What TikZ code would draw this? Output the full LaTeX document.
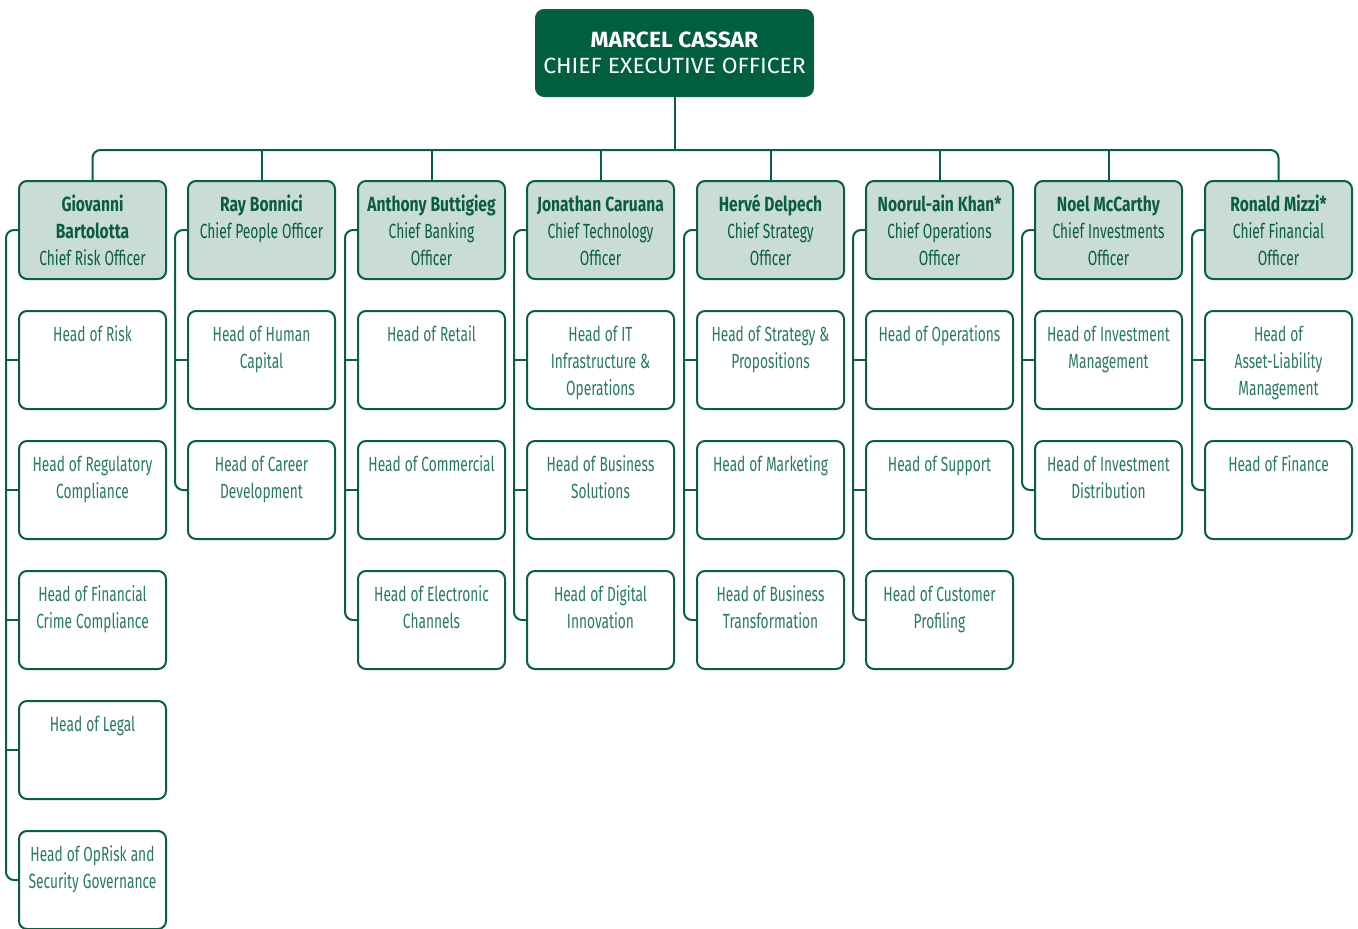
\documentclass[tikz,border=0pt]{standalone}
\usepackage{fontspec}
\setmainfont{Fira Sans}
\newfontfamily\condfont{Fira Sans}[FakeStretch=0.67, BoldFeatures={FakeStretch=0.76}]
\newfontfamily\ceofont{Fira Sans}[FakeStretch=1.04]
\definecolor{dkgreen}{HTML}{0A5E44}
\definecolor{ceofill}{HTML}{005F41}
\definecolor{hdrfill}{HTML}{C9DCD5}
\definecolor{hdrtext}{HTML}{0B5C44}
\definecolor{subtext}{HTML}{2A7A5E}
\newcommand\mystrut{\spaceskip=4pt\relax\rule{0pt}{18pt}}
\tikzset{
  box/.style={draw=dkgreen, line width=2pt, rounded corners=8pt, minimum width=147pt, minimum height=98pt, inner sep=0pt},
  hbox/.style={box, fill=hdrfill},
  cbox/.style={box, fill=white},
  htext/.style={anchor=north, inner sep=0pt, text width=150pt, align=center, font=\condfont\fontsize{20.5}{27}\selectfont, text=hdrtext},
  ctext/.style={htext, text=subtext},
  conn/.style={draw=dkgreen, line width=2pt},
}
\begin{document}
\begin{tikzpicture}[x=1pt,y=-1pt]
\useasboundingbox (0,0) rectangle (1358,929);
\clip (0,0) rectangle (1358,929);
% CEO
\node[box, fill=ceofill, minimum width=277pt, minimum height=86pt] (ceo) at (674.5,53) {};
\node[anchor=center, inner sep=0pt, align=center, text=white, font=\ceofont\fontsize{22}{26}\selectfont] (ceot) at (ceo.center) {\textbf{MARCEL CASSAR}\\CHIEF EXECUTIVE OFFICER};
\coordinate (bus) at (0,150);
% headers
\node[hbox] (h1) at (92.5,230) {};
\node[hbox] (h2) at (261.5,230) {};
\node[hbox] (h3) at (431.5,230) {};
\node[hbox] (h4) at (600.5,230) {};
\node[hbox] (h5) at (770.5,230) {};
\node[hbox] (h6) at (939.5,230) {};
\node[hbox] (h7) at (1108.5,230) {};
\node[hbox] (h8) at (1278.5,230) {};
\node[htext] (h1t) at ([yshift=-13pt]h1.north) {\mystrut\textbf{Giovanni}\\\textbf{Bartolotta}\\Chief Risk Officer};
\node[htext] (h2t) at ([yshift=-13pt]h2.north) {\mystrut\textbf{Ray Bonnici}\\Chief People Officer};
\node[htext] (h3t) at ([yshift=-13pt]h3.north) {\mystrut\textbf{Anthony Buttigieg}\\Chief Banking\\Officer};
\node[htext] (h4t) at ([yshift=-13pt]h4.north) {\mystrut\textbf{Jonathan Caruana}\\Chief Technology\\Officer};
\node[htext] (h5t) at ([yshift=-13pt]h5.north) {\mystrut\textbf{Hervé Delpech}\\Chief Strategy\\Officer};
\node[htext] (h6t) at ([yshift=-13pt]h6.north) {\mystrut\textbf{Noorul-ain Khan*}\\Chief Operations\\Officer};
\node[htext] (h7t) at ([yshift=-13pt]h7.north) {\mystrut\textbf{Noel McCarthy}\\Chief Investments\\Officer};
\node[htext] (h8t) at ([yshift=-13pt]h8.north) {\mystrut\textbf{Ronald Mizzi*}\\Chief Financial\\Officer};
% column 1
\node[cbox] (c11) at (92.5,360) {};
\node[cbox] (c12) at (92.5,490) {};
\node[cbox] (c13) at (92.5,620) {};
\node[cbox] (c14) at (92.5,750) {};
\node[cbox] (c15) at (92.5,880) {};
\node[ctext] at ([yshift=-13pt]c11.north) {\mystrut Head of Risk};
\node[ctext] at ([yshift=-13pt]c12.north) {\mystrut Head of Regulatory\\Compliance};
\node[ctext] at ([yshift=-13pt]c13.north) {\mystrut Head of Financial\\Crime Compliance};
\node[ctext] at ([yshift=-13pt]c14.north) {\mystrut Head of Legal};
\node[ctext] at ([yshift=-13pt]c15.north) {\mystrut Head of OpRisk and\\Security Governance};
% column 2
\node[cbox] (c21) at (261.5,360) {};
\node[cbox] (c22) at (261.5,490) {};
\node[ctext] at ([yshift=-13pt]c21.north) {\mystrut Head of Human\\Capital};
\node[ctext] at ([yshift=-13pt]c22.north) {\mystrut Head of Career\\Development};
% column 3
\node[cbox] (c31) at (431.5,360) {};
\node[cbox] (c32) at (431.5,490) {};
\node[cbox] (c33) at (431.5,620) {};
\node[ctext] at ([yshift=-13pt]c31.north) {\mystrut Head of Retail};
\node[ctext] at ([yshift=-13pt]c32.north) {\mystrut Head of Commercial};
\node[ctext] at ([yshift=-13pt]c33.north) {\mystrut Head of Electronic\\Channels};
% column 4
\node[cbox] (c41) at (600.5,360) {};
\node[cbox] (c42) at (600.5,490) {};
\node[cbox] (c43) at (600.5,620) {};
\node[ctext] at ([yshift=-13pt]c41.north) {\mystrut Head of IT\\Infrastructure \&\\Operations};
\node[ctext] at ([yshift=-13pt]c42.north) {\mystrut Head of Business\\Solutions};
\node[ctext] at ([yshift=-13pt]c43.north) {\mystrut Head of Digital\\Innovation};
% column 5
\node[cbox] (c51) at (770.5,360) {};
\node[cbox] (c52) at (770.5,490) {};
\node[cbox] (c53) at (770.5,620) {};
\node[ctext] at ([yshift=-13pt]c51.north) {\mystrut Head of Strategy \&\\Propositions};
\node[ctext] at ([yshift=-13pt]c52.north) {\mystrut Head of Marketing};
\node[ctext] at ([yshift=-13pt]c53.north) {\mystrut Head of Business\\Transformation};
% column 6
\node[cbox] (c61) at (939.5,360) {};
\node[cbox] (c62) at (939.5,490) {};
\node[cbox] (c63) at (939.5,620) {};
\node[ctext] at ([yshift=-13pt]c61.north) {\mystrut Head of Operations};
\node[ctext] at ([yshift=-13pt]c62.north) {\mystrut Head of Support};
\node[ctext] at ([yshift=-13pt]c63.north) {\mystrut Head of Customer\\Profiling};
% column 7
\node[cbox] (c71) at (1108.5,360) {};
\node[cbox] (c72) at (1108.5,490) {};
\node[ctext] at ([yshift=-13pt]c71.north) {\mystrut Head of Investment\\Management};
\node[ctext] at ([yshift=-13pt]c72.north) {\mystrut Head of Investment\\Distribution};
% column 8
\node[cbox] (c81) at (1278.5,360) {};
\node[cbox] (c82) at (1278.5,490) {};
\node[ctext] at ([yshift=-13pt]c81.north) {\mystrut Head of\\Asset-Liability\\Management};
\node[ctext] at ([yshift=-13pt]c82.north) {\mystrut Head of Finance};
% bus connectors
\draw[conn] (ceo.south) -- (ceo.south |- bus);
\draw[conn, rounded corners=8pt] (h1.north) -- (h1.north |- bus) -- (h8.north |- bus) -- (h8.north);
\foreach \h in {h2,h3,h4,h5,h6,h7} { \draw[conn] (\h.north) -- (\h.north |- bus); }
% column connectors
\foreach \h/\last in {h1/c15, h2/c22, h3/c33, h4/c43, h5/c53, h6/c63, h7/c72, h8/c82} {
  \draw[conn, rounded corners=8pt] (\h.west) -| ([xshift=-12pt]\last.west) -- (\last.west);
}
\foreach \c in {c11,c12,c13,c14,c21,c31,c32,c41,c42,c51,c52,c61,c62,c71,c81} {
  \draw[conn] (\c.west) -- ++(-12,0);
}
\end{tikzpicture}
\end{document}
